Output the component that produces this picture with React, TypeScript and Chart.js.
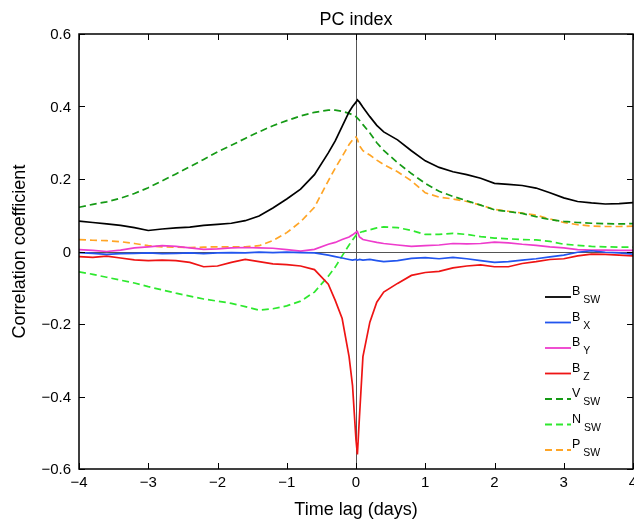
import { useEffect, useRef } from 'react';
import { Chart, registerables } from 'chart.js';

Chart.register(...registerables);

// Time lag (days)
const lags = [
  -4, -3.8, -3.6, -3.4, -3.2, -3, -2.8, -2.6, -2.4, -2.2, -2, -1.8, -1.6, -1.4, -1.2, -1, -0.8, -0.6,
  -0.4, -0.3, -0.2, -0.1, -0.05, 0, 0.02, 0.05, 0.1, 0.2, 0.3, 0.4,
  0.6, 0.8, 1, 1.2, 1.4, 1.6, 1.8, 2, 2.2, 2.4, 2.6, 2.8, 3, 3.2, 3.4, 3.6, 3.8, 4,
];

const bSW = [
  0.084, 0.080, 0.076, 0.072, 0.066, 0.058, 0.062, 0.065, 0.067, 0.072, 0.075, 0.078, 0.085, 0.098, 0.120, 0.145, 0.172, 0.212,
  0.272, 0.305, 0.345, 0.385, 0.400, 0.412, 0.418, 0.412, 0.398, 0.372, 0.348, 0.330,
  0.308, 0.278, 0.250, 0.232, 0.220, 0.212, 0.202, 0.188, 0.185, 0.182, 0.175, 0.162, 0.148, 0.138, 0.134, 0.131, 0.132, 0.135,
];

const bX = [
  -0.003, -0.005, -0.008, -0.006, -0.005, -0.004, -0.006, -0.005, -0.004, -0.006, -0.004, -0.003, -0.004, -0.002, -0.003, -0.002, -0.003, -0.004,
  -0.010, -0.014, -0.018, -0.022, -0.024, -0.022, -0.024, -0.022, -0.024, -0.022, -0.025, -0.028,
  -0.025, -0.019, -0.017, -0.020, -0.016, -0.020, -0.025, -0.030, -0.028, -0.024, -0.020, -0.015, -0.010, -0.002, 0.002, -0.002, -0.004, -0.007,
];

const bY = [
  0.005, 0.003, 0.000, 0.004, 0.010, 0.013, 0.016, 0.014, 0.010, 0.006, 0.007, 0.010, 0.011, 0.010, 0.009, 0.005, 0.001, 0.006,
  0.020, 0.025, 0.033, 0.040, 0.046, 0.053, 0.055, 0.040, 0.033, 0.029, 0.025, 0.022,
  0.018, 0.014, 0.016, 0.018, 0.022, 0.021, 0.022, 0.026, 0.024, 0.020, 0.017, 0.013, 0.010, 0.005, 0.004, 0.004, 0.003, 0.003,
];

const bZ = [
  -0.014, -0.016, -0.013, -0.018, -0.023, -0.025, -0.024, -0.025, -0.030, -0.042, -0.040, -0.030, -0.022, -0.028, -0.034, -0.036, -0.040, -0.050,
  -0.090, -0.135, -0.185, -0.290, -0.370, -0.520, -0.560, -0.456, -0.290, -0.195, -0.140, -0.112,
  -0.088, -0.066, -0.058, -0.055, -0.045, -0.040, -0.037, -0.042, -0.042, -0.033, -0.028, -0.022, -0.020, -0.012, -0.007, -0.008, -0.010, -0.012,
];

const vSW = [
  0.122, 0.130, 0.137, 0.147, 0.160, 0.176, 0.195, 0.214, 0.234, 0.254, 0.275, 0.293, 0.312, 0.330, 0.347, 0.361, 0.374, 0.384,
  0.390, 0.390, 0.387, 0.381, 0.377, 0.372, 0.368, 0.362, 0.350, 0.327, 0.300, 0.279,
  0.245, 0.215, 0.188, 0.166, 0.152, 0.140, 0.128, 0.115, 0.110, 0.105, 0.096, 0.088, 0.083, 0.080, 0.078, 0.077, 0.076, 0.077,
];

const nSW = [
  -0.056, -0.063, -0.071, -0.079, -0.087, -0.097, -0.106, -0.115, -0.123, -0.131, -0.137, -0.143, -0.152, -0.162, -0.158, -0.150, -0.137, -0.112,
  -0.068, -0.043, -0.012, 0.018, 0.032, 0.045, 0.050, 0.052, 0.055, 0.060, 0.065, 0.068,
  0.066, 0.058, 0.047, 0.047, 0.050, 0.047, 0.041, 0.037, 0.035, 0.033, 0.032, 0.028, 0.020, 0.017, 0.014, 0.013, 0.012, 0.012,
];

const pSW = [
  0.033, 0.031, 0.030, 0.027, 0.022, 0.016, 0.013, 0.012, 0.011, 0.012, 0.013, 0.013, 0.013, 0.016, 0.030, 0.052, 0.082, 0.122,
  0.195, 0.230, 0.262, 0.295, 0.308, 0.316, 0.310, 0.292, 0.278, 0.266, 0.252, 0.240,
  0.220, 0.195, 0.162, 0.150, 0.145, 0.138, 0.128, 0.116, 0.111, 0.106, 0.100, 0.090, 0.080, 0.074, 0.070, 0.069, 0.069, 0.070,
];

const xTicks = [-4, -3, -2, -1, 0, 1, 2, 3, 4];
const yTicks = [-0.6, -0.4, -0.2, 0, 0.2, 0.4, 0.6];

const seriesMain = ['B', 'B', 'B', 'B', 'V', 'N', 'P'];
const seriesSub = ['SW', 'X', 'Y', 'Z', 'SW', 'SW', 'SW'];
const seriesValues = [bSW, bX, bY, bZ, vSW, nSW, pSW];
const seriesColors = ['#000000', '#2255ee', '#ee3ccc', '#ee1414', '#159a15', '#2ee82e', '#ffa526'];
const seriesDash: number[][] = [[], [], [], [], [7, 4], [7, 4], [7, 4]];

const FONT = '"Liberation Sans", Arial, Helvetica, sans-serif';

const fmt = (v: number, digits: number) => {
  if (Math.abs(v) < 1e-9) return '0';
  const s = Math.abs(v).toFixed(digits);
  return v < 0 ? '\u2212' + s : s;
};

const decorPlugin = {
  id: 'decor',
  beforeDatasetsDraw(chart: any) {
    const { ctx, chartArea: a, scales } = chart;
    const x = scales.x;
    const y = scales.y;
    ctx.save();
    ctx.strokeStyle = '#555555';
    ctx.lineWidth = 1;
    const y0 = Math.round(y.getPixelForValue(0)) + 0.5;
    const x0 = Math.round(x.getPixelForValue(0)) + 0.5;
    ctx.beginPath();
    ctx.moveTo(a.left, y0);
    ctx.lineTo(a.right, y0);
    ctx.moveTo(x0, a.top);
    ctx.lineTo(x0, a.bottom);
    ctx.stroke();
    ctx.restore();
  },
  afterDatasetsDraw(chart: any) {
    const { ctx, chartArea: a, scales } = chart;
    const x = scales.x;
    const y = scales.y;
    ctx.save();
    // frame
    ctx.strokeStyle = '#000000';
    ctx.lineWidth = 1.5;
    ctx.strokeRect(a.left, a.top, a.right - a.left, a.bottom - a.top);
    // inward ticks
    ctx.lineWidth = 1;
    ctx.beginPath();
    const tl = 6;
    xTicks.forEach((t) => {
      const px = Math.round(x.getPixelForValue(t)) + 0.5;
      ctx.moveTo(px, a.bottom);
      ctx.lineTo(px, a.bottom - tl);
      ctx.moveTo(px, a.top);
      ctx.lineTo(px, a.top + tl);
    });
    yTicks.forEach((t) => {
      const py = Math.round(y.getPixelForValue(t)) + 0.5;
      ctx.moveTo(a.left, py);
      ctx.lineTo(a.left + tl, py);
      ctx.moveTo(a.right, py);
      ctx.lineTo(a.right - tl, py);
    });
    ctx.stroke();

    // tick labels
    ctx.fillStyle = '#000000';
    ctx.font = `15px ${FONT}`;
    ctx.textAlign = 'center';
    ctx.textBaseline = 'alphabetic';
    xTicks.forEach((t) => {
      ctx.fillText(fmt(t, 0), x.getPixelForValue(t), a.bottom + 18);
    });
    ctx.textAlign = 'right';
    ctx.textBaseline = 'middle';
    yTicks.forEach((t) => {
      ctx.fillText(fmt(t, 1), a.left - 8, y.getPixelForValue(t) + 1);
    });

    // titles
    ctx.font = `18px ${FONT}`;
    ctx.textAlign = 'center';
    ctx.textBaseline = 'alphabetic';
    ctx.fillText('PC index', (a.left + a.right) / 2, 25);
    ctx.fillText('Time lag (days)', (a.left + a.right) / 2, 515);
    ctx.save();
    ctx.translate(25, (a.top + a.bottom) / 2);
    ctx.rotate(-Math.PI / 2);
    ctx.fillText('Correlation coefficient', 0, 0);
    ctx.restore();

    // legend
    const lx0 = 545;
    const lx1 = 571;
    seriesMain.forEach((m, i) => {
      const ly = 297 + i * 25.5;
      ctx.strokeStyle = seriesColors[i];
      ctx.lineWidth = 1.8;
      ctx.setLineDash(seriesDash[i]);
      ctx.beginPath();
      ctx.moveTo(lx0, ly);
      ctx.lineTo(lx1, ly);
      ctx.stroke();
      ctx.setLineDash([]);
      ctx.fillStyle = '#000000';
      ctx.textAlign = 'left';
      ctx.textBaseline = 'alphabetic';
      ctx.font = `12.5px ${FONT}`;
      ctx.fillText(m, 572, ly - 2);
      const w = ctx.measureText(m).width;
      ctx.font = `10.5px ${FONT}`;
      ctx.fillText(seriesSub[i], 572 + w + 3, ly + 6);
    });
    ctx.restore();
  },
};

export default function App() {
  const canvasRef = useRef<HTMLCanvasElement | null>(null);

  useEffect(() => {
    const canvas = canvasRef.current;
    if (!canvas) return;
    const datasets = seriesValues.map((vals, i) => ({
      label: seriesMain[i] + seriesSub[i],
      data: lags.map((l, j) => ({ x: l, y: vals[j] })),
      borderColor: seriesColors[i],
      backgroundColor: seriesColors[i],
      borderWidth: 1.7,
      borderDash: seriesDash[i],
      pointRadius: 0,
      tension: 0,
      fill: false,
    }));
    const chart = new Chart(canvas, {
      type: 'line',
      data: { datasets },
      plugins: [decorPlugin],
      options: {
        responsive: false,
        animation: false,
        devicePixelRatio: 1,
        layout: { padding: { top: 34, right: 1, left: 0, bottom: 0 } },
        plugins: {
          legend: { display: false },
          title: { display: false },
          tooltip: { enabled: false },
        },
        scales: {
          x: {
            type: 'linear',
            min: -4,
            max: 4,
            ticks: { display: false, stepSize: 1 },
            grid: { display: false },
            border: { display: false },
            afterFit: (s: any) => {
              s.height = 51;
            },
          },
          y: {
            type: 'linear',
            min: -0.6,
            max: 0.6,
            ticks: { display: false, stepSize: 0.2 },
            grid: { display: false },
            border: { display: false },
            afterFit: (s: any) => {
              s.width = 79;
            },
          },
        },
      },
    });
    return () => chart.destroy();
  }, []);

  return (
    <div style={{ position: 'fixed', left: 0, top: 0, width: 634, height: 520, background: '#ffffff' }}>
      <canvas ref={canvasRef} width={634} height={520} style={{ display: 'block' }} />
    </div>
  );
}
